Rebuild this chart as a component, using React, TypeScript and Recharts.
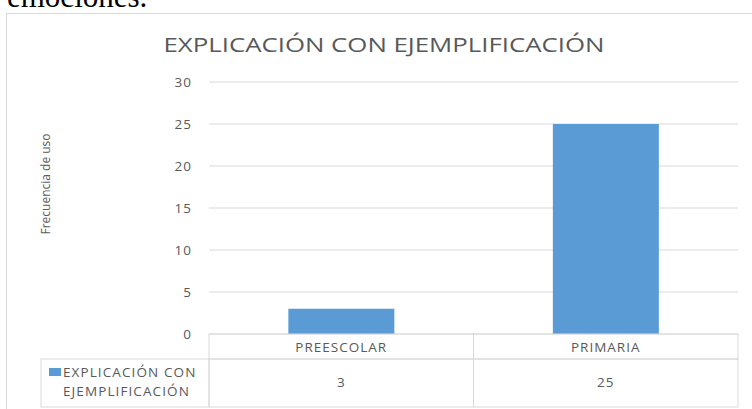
import { BarChart, Bar, XAxis, YAxis, CartesianGrid } from "recharts";

const categories = ["PREESCOLAR", "PRIMARIA"];
const values = [3, 25];
const seriesName = "EXPLICACIÓN CON EJEMPLIFICACIÓN";
const yTicks = [0, 5, 10, 15, 20, 25, 30];

const data = categories.map((name, i) => ({ name, value: values[i] }));

const FONT = "'Open Sans', sans-serif";
const TEXT = "#595959";
const LINE = "#d9d9d9";
const BLUE = "#5B9BD5";

// plot area bounds (px)
const PLOT_LEFT = 209;
const PLOT_RIGHT = 738;
const PLOT_BOTTOM = 334;
const W = 752;
const H = 409;

// each category column of the data table, drawn as the x-axis tick
function TableTick(props: any) {
  const { x, payload, index } = props;
  const bw = (PLOT_RIGHT - PLOT_LEFT) / categories.length;
  const left = x - bw / 2;
  return (
    <g>
      <rect x={left} y={PLOT_BOTTOM} width={bw} height={25} fill="none" stroke={LINE} />
      <rect x={left} y={PLOT_BOTTOM + 25} width={bw} height={48} fill="none" stroke={LINE} />
      <text
        x={x}
        y={PLOT_BOTTOM + 18}
        textAnchor="middle"
        fontFamily={FONT}
        fontSize={13.5}
        letterSpacing={1}
        fill={TEXT}
      >
        {payload.value}
      </text>
      <text
        x={x}
        y={PLOT_BOTTOM + 53}
        textAnchor="middle"
        fontFamily={FONT}
        fontSize={13.5}
        letterSpacing={1}
        fill={TEXT}
      >
        {values[index]}
      </text>
    </g>
  );
}

export default function App() {
  return (
    <div
      style={{
        position: "fixed",
        left: 0,
        top: 0,
        width: W,
        height: H,
        background: "#fff",
        overflow: "hidden",
      }}
    >
      <div
        style={{
          position: "absolute",
          left: 7,
          top: -23,
          fontFamily: "'Liberation Serif', serif",
          fontSize: 31,
          lineHeight: "40px",
          color: "#000",
        }}
      >
        emociones.
      </div>
      <div
        style={{
          position: "absolute",
          left: 6,
          top: 13,
          width: 800,
          height: 500,
          border: `1px solid ${LINE}`,
          boxSizing: "border-box",
        }}
      />
      <div style={{ position: "absolute", left: 0, top: 0 }}>
        <BarChart
          width={W}
          height={H}
          data={data}
          margin={{ top: 82, right: W - PLOT_RIGHT, left: 169, bottom: 2 }}
          barCategoryGap="30%"
        >
          <text
            x={384}
            y={52}
            textAnchor="middle"
            fontFamily={FONT}
            fontSize={20}
            fill={TEXT}
            textLength={441}
            lengthAdjust="spacingAndGlyphs"
          >
            {seriesName}
          </text>
          <text
            x={0}
            y={0}
            transform="translate(50 184) rotate(-90)"
            textAnchor="middle"
            fontFamily={FONT}
            fontSize={12}
            fill={TEXT}
          >
            Frecuencia de uso
          </text>
          <CartesianGrid vertical={false} stroke={LINE} />
          <XAxis
            dataKey="name"
            axisLine={false}
            tickLine={false}
            height={73}
            interval={0}
            tick={<TableTick />}
          />
          <YAxis
            domain={[0, 30]}
            ticks={yTicks}
            width={40}
            axisLine={false}
            tickLine={false}
            tickSize={0}
            tickMargin={17}
            tick={{ fontFamily: FONT, fontSize: 13.5, letterSpacing: 1, fill: TEXT }}
          />
          <Bar dataKey="value" fill={BLUE} isAnimationActive={false} />
          {/* legend cell of the data table */}
          <rect x={41} y={PLOT_BOTTOM + 25} width={PLOT_LEFT - 41} height={48} fill="none" stroke={LINE} />
          <rect x={49} y={368} width={12} height={8} fill={BLUE} />
          <text x={63} y={377} fontFamily={FONT} fontSize={13.5} letterSpacing={1.1} fill={TEXT}>
            EXPLICACIÓN CON
          </text>
          <text x={63} y={396} fontFamily={FONT} fontSize={13.5} letterSpacing={1.1} fill={TEXT}>
            EJEMPLIFICACIÓN
          </text>
        </BarChart>
      </div>
    </div>
  );
}
